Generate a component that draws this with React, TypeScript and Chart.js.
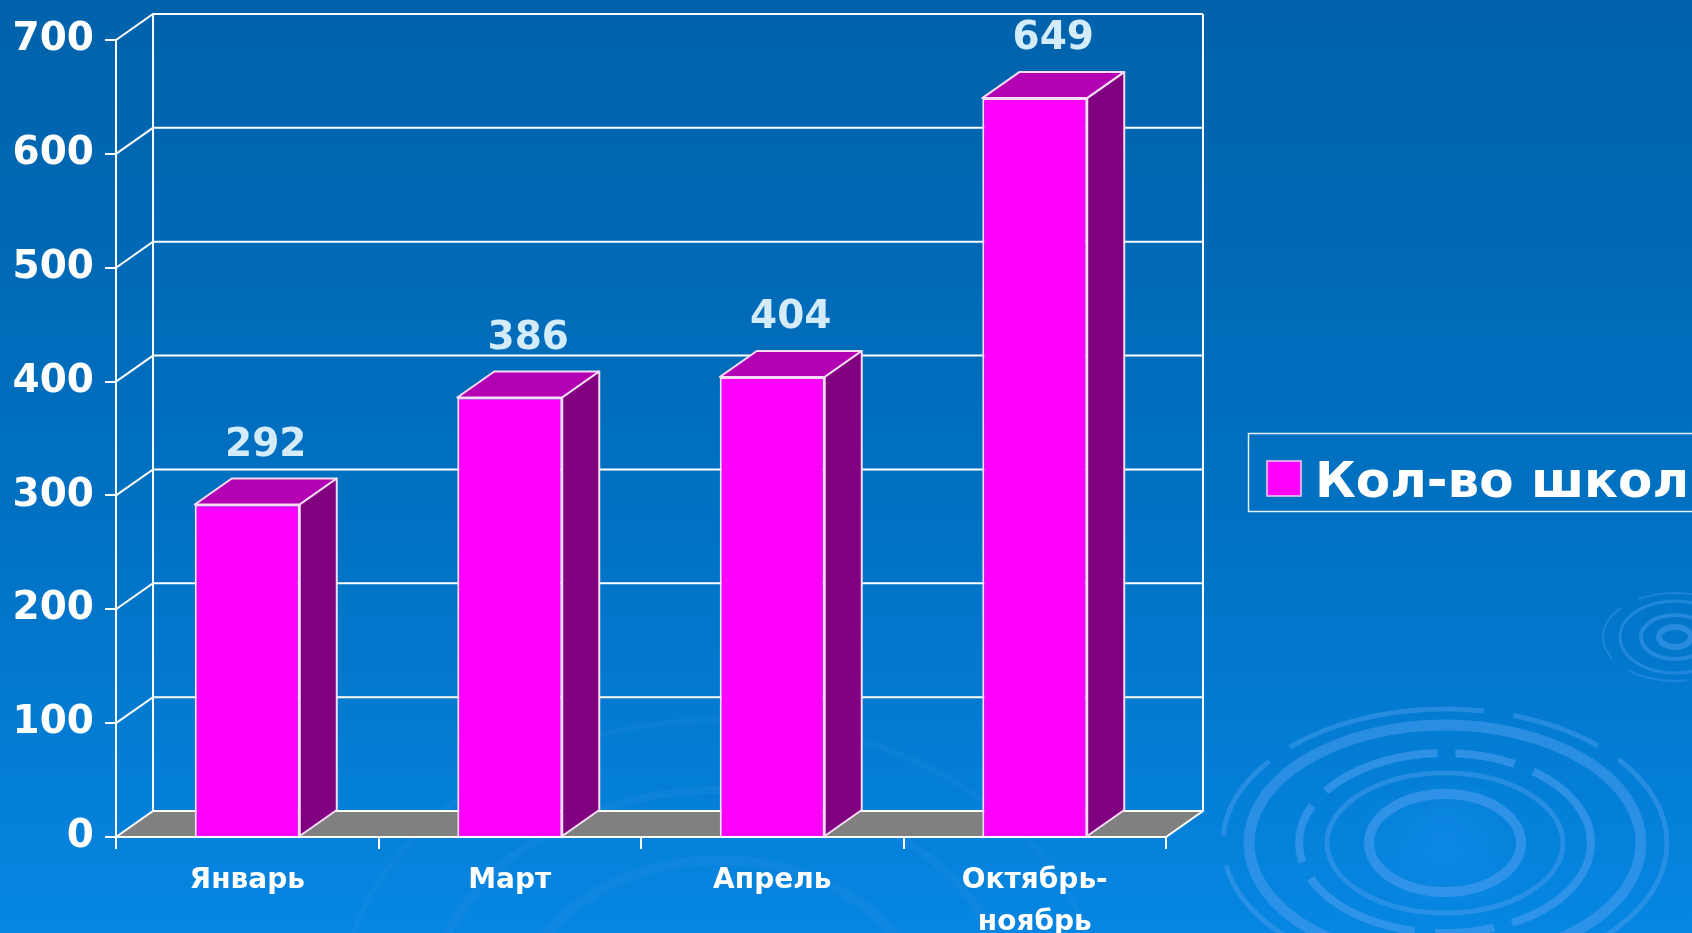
import React, { useEffect, useRef } from "react";
import { Chart, registerables } from "chart.js";

Chart.register(...registerables);

const categories: (string | string[])[] = ["Январь", "Март", "Апрель", ["Октябрь-", "ноябрь"]];
const schoolCounts: number[] = [292, 386, 404, 649];
const seriesLabel = "Кол-во школ";
const yMin = 0;
const yMax = 700;
const yStep = 100;

const FONT = "'DejaVu Sans', Verdana, sans-serif";
const DX = 37;
const DY = -26;

const COLORS = {
  front: "#ff00ff",
  top: "#b200b2",
  side: "#800080",
  edge: "#f6dcf6",
  floor: "#808080",
  grid: "#ffffff",
  label: "#d4ecfa",
};

function poly(ctx: CanvasRenderingContext2D, pts: number[][]) {
  ctx.beginPath();
  ctx.moveTo(pts[0][0], pts[0][1]);
  for (let i = 1; i < pts.length; i++) ctx.lineTo(pts[i][0], pts[i][1]);
  ctx.closePath();
}

function drawRipple(
  ctx: CanvasRenderingContext2D,
  cx: number,
  cy: number,
  rings: { rx: number; ry: number; w: number; a: number; dash?: number[] }[]
) {
  rings.forEach((r) => {
    ctx.save();
    ctx.strokeStyle = `rgba(80,160,240,${r.a})`;
    ctx.lineWidth = r.w;
    if (r.dash) ctx.setLineDash(r.dash);
    ctx.beginPath();
    ctx.ellipse(cx, cy, r.rx, r.ry, 0, 0, Math.PI * 2);
    ctx.stroke();
    ctx.restore();
  });
}

const threeDPlugin = {
  id: "threeD",
  beforeDraw(chart: any) {
    const { ctx, width, height } = chart;
    ctx.save();
    const g = ctx.createLinearGradient(0, 0, 0, height);
    g.addColorStop(0, "#0062ab");
    g.addColorStop(0.55, "#0071c2");
    g.addColorStop(1, "#0686e2");
    ctx.fillStyle = g;
    ctx.fillRect(0, 0, width, height);

    const rg = ctx.createRadialGradient(1445, 843, 0, 1445, 843, 90);
    rg.addColorStop(0, "rgba(20,140,235,0.5)");
    rg.addColorStop(1, "rgba(20,140,235,0)");
    ctx.fillStyle = rg;
    ctx.beginPath();
    ctx.ellipse(1445, 843, 90, 60, 0, 0, Math.PI * 2);
    ctx.fill();
    drawRipple(ctx, 1445, 843, [
      { rx: 76, ry: 49, w: 10, a: 0.55 },
      { rx: 118, ry: 70, w: 5, a: 0.45 },
      { rx: 146, ry: 90, w: 8, a: 0.55, dash: [120, 18, 60, 20] },
      { rx: 196, ry: 118, w: 11, a: 0.5 },
      { rx: 222, ry: 134, w: 5, a: 0.45, dash: [200, 30, 90, 25] },
    ]);
    drawRipple(ctx, 1675, 637, [
      { rx: 16, ry: 10, w: 6, a: 0.5 },
      { rx: 34, ry: 22, w: 4, a: 0.45 },
      { rx: 55, ry: 36, w: 3, a: 0.4 },
      { rx: 72, ry: 44, w: 2, a: 0.35, dash: [60, 20] },
    ]);
    drawRipple(ctx, 720, 1010, [
      { rx: 200, ry: 150, w: 10, a: 0.12 },
      { rx: 290, ry: 220, w: 8, a: 0.12 },
      { rx: 380, ry: 290, w: 6, a: 0.1 },
    ]);
    ctx.restore();
  },
  beforeDatasetsDraw(chart: any) {
    const { ctx, chartArea: a, scales } = chart;
    const y = scales.y;
    const base = y.getPixelForValue(yMin);
    const top = y.getPixelForValue(yMax);
    ctx.save();
    ctx.fillStyle = COLORS.floor;
    poly(ctx, [
      [a.left, base],
      [a.right, base],
      [a.right + DX, base + DY],
      [a.left + DX, base + DY],
    ]);
    ctx.fill();
    ctx.strokeStyle = COLORS.grid;
    ctx.lineWidth = 2;
    y.ticks.forEach((t: any) => {
      const py = y.getPixelForValue(t.value);
      ctx.beginPath();
      ctx.moveTo(a.left, py);
      ctx.lineTo(a.left + DX, py + DY);
      ctx.lineTo(a.right + DX, py + DY);
      ctx.stroke();
    });
    ctx.beginPath();
    ctx.moveTo(a.left + DX, top + DY);
    ctx.lineTo(a.left + DX, base + DY);
    ctx.moveTo(a.right + DX, top + DY);
    ctx.lineTo(a.right + DX, base + DY);
    ctx.lineTo(a.right, base);
    ctx.lineTo(a.left, base);
    ctx.stroke();
    ctx.restore();
  },
  afterDatasetsDraw(chart: any) {
    const { ctx } = chart;
    const meta = chart.getDatasetMeta(0);
    const ds = chart.data.datasets[0];
    ctx.save();
    meta.data.forEach((el: any, i: number) => {
      const { x, y, base, width } = el.getProps(["x", "y", "base", "width"], true);
      const l = x - width / 2;
      const r = x + width / 2;
      ctx.lineWidth = 2;
      ctx.strokeStyle = COLORS.edge;
      ctx.lineJoin = "round";
      ctx.fillStyle = COLORS.top;
      poly(ctx, [
        [l, y],
        [r, y],
        [r + DX, y + DY],
        [l + DX, y + DY],
      ]);
      ctx.fill();
      ctx.stroke();
      ctx.fillStyle = COLORS.side;
      poly(ctx, [
        [r, y],
        [r + DX, y + DY],
        [r + DX, base + DY],
        [r, base],
      ]);
      ctx.fill();
      ctx.stroke();
      ctx.fillStyle = COLORS.label;
      ctx.font = `bold 39px ${FONT}`;
      ctx.textAlign = "center";
      ctx.textBaseline = "middle";
      ctx.fillText(String(ds.data[i]), x + DX / 2, y + DY - 33);
    });
    ctx.restore();
  },
  afterDraw(chart: any) {
    const { ctx } = chart;
    const ds = chart.data.datasets[0];
    ctx.save();
    ctx.strokeStyle = "#e6eef6";
    ctx.lineWidth = 1.5;
    ctx.strokeRect(1248.5, 433.5, 520, 78);
    ctx.fillStyle = ds.backgroundColor;
    ctx.fillRect(1267, 461, 34, 35);
    ctx.strokeStyle = "#f0d0f0";
    ctx.lineWidth = 1.5;
    ctx.strokeRect(1267, 461, 34, 35);
    ctx.fillStyle = "#ffffff";
    ctx.font = `bold 50px ${FONT}`;
    ctx.textAlign = "left";
    ctx.textBaseline = "alphabetic";
    ctx.fillText(ds.label, 1315, 497);
    ctx.restore();
  },
};

export default function App() {
  const canvasRef = useRef<HTMLCanvasElement | null>(null);

  useEffect(() => {
    document.body.style.margin = "0";
    const canvas = canvasRef.current;
    if (!canvas) return;
    const chart = new Chart(canvas, {
      type: "bar",
      data: {
        labels: categories as any,
        datasets: [
          {
            label: seriesLabel,
            data: schoolCounts,
            backgroundColor: COLORS.front,
            borderColor: COLORS.edge,
            borderWidth: 2,
            barPercentage: 0.4,
            categoryPercentage: 1,
          },
        ],
      },
      options: {
        animation: false,
        responsive: false,
        devicePixelRatio: 1,
        layout: { padding: { top: 40, right: 526, left: 0, bottom: 0 } },
        plugins: {
          legend: { display: false },
          tooltip: { enabled: false },
          title: { display: false },
        },
        scales: {
          x: {
            type: "category",
            offset: true,
            grid: {
              display: true,
              drawOnChartArea: false,
              drawTicks: true,
              tickLength: 12,
              color: "#ffffff",
              lineWidth: 2,
              offset: true,
            },
            border: { display: true, color: "#ffffff", width: 2 },
            ticks: {
              color: "#ffffff",
              font: { family: FONT, size: 28, weight: "bold", lineHeight: 1.52 },
              padding: 10,
              maxRotation: 0,
              autoSkip: false,
            },
            afterFit: (s: any) => {
              s.height = 96;
            },
          },
          y: {
            min: yMin,
            max: yMax,
            grid: {
              display: true,
              drawOnChartArea: false,
              drawTicks: true,
              tickLength: 11,
              color: "#ffffff",
              lineWidth: 2,
            },
            border: { display: true, color: "#ffffff", width: 2 },
            ticks: {
              stepSize: yStep,
              color: "#ffffff",
              font: { family: FONT, size: 39, weight: "bold" },
              padding: 11,
            },
            afterFit: (s: any) => {
              s.width = 116;
            },
          },
        },
      },
      plugins: [threeDPlugin],
    });
    return () => chart.destroy();
  }, []);

  return (
    <div style={{ width: 1692, height: 933, overflow: "hidden" }}>
      <canvas ref={canvasRef} width={1692} height={933} style={{ display: "block" }} />
    </div>
  );
}
